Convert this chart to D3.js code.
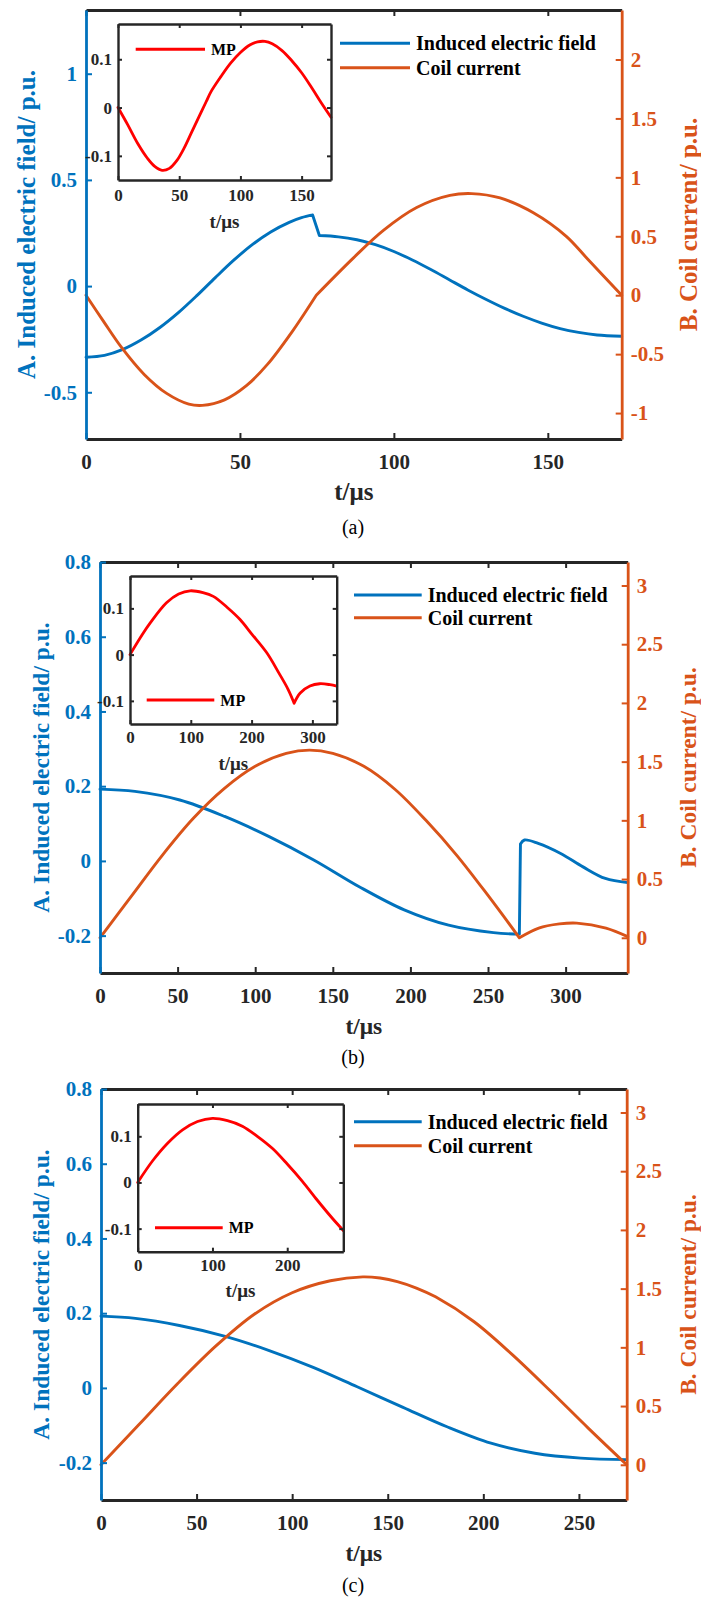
<!DOCTYPE html>
<html>
<head>
<meta charset="utf-8">
<script src="https://cdn.jsdelivr.net/npm/d3@7"></script>
<style>
  body { margin: 0; background: #fff; }
</style>
</head>
<body>
<script>
// ---- data ----
// (a)
const aTimeTicks = [0, 50, 100, 150];
const aFieldTicks = [-0.5, 0, 0.5, 1];
const aCurrentTicks = [-1, -0.5, 0, 0.5, 1, 1.5, 2];
const aMPTimeTicks = [0, 50, 100, 150];
const aField = [
  [[0, -0.335], [6, -0.326], [12, -0.298], [18, -0.253], [24, -0.195], [30, -0.125], [36, -0.045], [42, 0.04], [48, 0.122], [54, 0.195], [60, 0.255], [66, 0.3], [70, 0.322], [73.6, 0.335]],
  [[73.6, 0.335], [75.8, 0.238]],
  [[75.8, 0.238], [82, 0.232], [88, 0.218], [94, 0.195], [100, 0.163], [106, 0.123], [112, 0.078], [118, 0.03], [124, -0.018], [130, -0.063], [136, -0.105], [142, -0.142], [148, -0.174], [154, -0.2], [160, -0.218], [166, -0.23], [174, -0.236]]
];
const aCurrent = [
  [[0, 0], [5.8, -0.226], [11.6, -0.445], [18.9, -0.672], [26.2, -0.833], [33.4, -0.924], [37.8, -0.935], [45, -0.888], [52, -0.77], [59, -0.585], [66.8, -0.315], [74.8, 0]],
  [[74.8, 0], [86.8, 0.315], [96.6, 0.55], [107.4, 0.744], [118.2, 0.847], [125.3, 0.862], [134.5, 0.825], [145.3, 0.7], [156, 0.5], [163, 0.305], [174, 0]]
];
const aMP = [
  [[0, 0], [8, -0.036], [16, -0.074], [24, -0.105], [30, -0.122], [36, -0.13], [42, -0.126], [48, -0.11], [54, -0.084], [60, -0.052], [66, -0.02], [72, 0.012], [76, 0.033], [84, 0.064], [92, 0.092], [100, 0.114], [108, 0.13], [114, 0.136], [120, 0.137], [126, 0.132], [134, 0.118], [142, 0.097], [150, 0.072], [158, 0.042], [166, 0.01], [174, -0.02]]
];

// (b)
const bTimeTicks = [0, 50, 100, 150, 200, 250, 300];
const bFieldTicks = [-0.2, 0, 0.2, 0.4, 0.6, 0.8];
const bCurrentTicks = [0, 0.5, 1, 1.5, 2, 2.5, 3];
const bMPTimeTicks = [0, 100, 200, 300];
const bField = [
  [[0, 0.192], [22.5, 0.186], [51.4, 0.163], [80.3, 0.119], [109, 0.065], [138, 0.002], [167, -0.069], [196, -0.131], [224.6, -0.172], [253.5, -0.192], [270.2, -0.196]],
  [[270.2, -0.196], [270.9, 0.045]],
  [[270.9, 0.045], [273.5, 0.056], [282.3, 0.047], [296.8, 0.02], [311.2, -0.016], [325.6, -0.047], [340, -0.058]]
];
const bCurrent = [
  [[0, 0], [20, 0.35], [40, 0.7], [60, 1.015], [80, 1.27], [100, 1.46], [120, 1.57], [135, 1.598], [150, 1.57], [170, 1.46], [190, 1.265], [210, 1.0], [230, 0.7], [250, 0.36], [270.2, 0]],
  [[270.2, 0], [282.7, 0.083], [296, 0.118], [307.2, 0.125], [326, 0.083], [340, 0.01]]
];
const bMP = [
  [[0, 0], [20, 0.043], [33, 0.068], [60, 0.112], [80, 0.131], [99, 0.138], [120, 0.134], [137, 0.126], [160, 0.102], [181, 0.076], [200, 0.045], [225, 0.004], [245, -0.04], [260, -0.075], [270, -0.105]],
  [[270, -0.105], [280, -0.083], [296, -0.068], [312, -0.063], [329, -0.065], [340, -0.068]]
];

// (c)
const cTimeTicks = [0, 50, 100, 150, 200, 250];
const cFieldTicks = [-0.2, 0, 0.2, 0.4, 0.6, 0.8];
const cCurrentTicks = [0, 0.5, 1, 1.5, 2, 2.5, 3];
const cMPTimeTicks = [0, 100, 200];
const cField = [
  [[0, 0.192], [18, 0.186], [41, 0.167], [65, 0.138], [88, 0.1], [111, 0.055], [134, 0.003], [158, -0.052], [181, -0.104], [204, -0.148], [227, -0.175], [251, -0.188], [275, -0.192]]
];
const cCurrent = [
  [[0, 0], [20, 0.345], [40, 0.69], [60, 1.01], [80, 1.28], [100, 1.465], [120, 1.567], [137, 1.6], [146, 1.59], [155, 1.56], [165, 1.505], [175, 1.43], [195, 1.22], [215, 0.94], [235, 0.63], [255, 0.31], [275, 0]]
];
const cMP = [
  [[0, 0], [20, 0.047], [40, 0.085], [60, 0.114], [80, 0.132], [100, 0.139], [120, 0.134], [140, 0.122], [160, 0.1], [180, 0.074], [200, 0.04], [220, 0.003], [240, -0.038], [260, -0.077], [275, -0.104]]
];

const mpTicks = [-0.1, 0, 0.1];
const legendNames = ["Induced electric field", "Coil current"];

// ---- styling ----
const FONT = "Liberation Serif, Times New Roman, serif";
const BLUE = "#0072BD", ORANGE = "#D95319", RED = "#FF0000", INK = "#262626";

const panels = [
  { box: { l: 86, r: 621.7, t: 10, b: 439 }, xDomain: [0, 174], xTicks: aTimeTicks,
    yL: [-0.72, 1.3], yLTicks: aFieldTicks, yR: [-1.22, 2.42], yRTicks: aCurrentTicks,
    field: aField, current: aCurrent, labelSize: 25, labelLX: 26,
    legend: { x1: 340, x2: 410, y1: 43.3, y2: 67.7 },
    inset: { l: 118, r: 331, t: 24, b: 180, x: [0, 174], xTicks: aMPTimeTicks, y: [-0.15, 0.173], mp: aMP,
             leg: { x1: 135.7, x2: 205, y: 49.3 }, tickPad: 9, labelY: 221.7 },
    caption: "(a)", captionY: 527 },
  { box: { l: 100, r: 627.7, t: 562, b: 973 }, xDomain: [0, 340], xTicks: bTimeTicks,
    yL: [-0.3, 0.8], yLTicks: bFieldTicks, yR: [-0.3, 3.2], yRTicks: bCurrentTicks,
    field: bField, current: bCurrent, labelSize: 23.5, labelLX: 41,
    legend: { x1: 354, x2: 421.7, y1: 595, y2: 617.7 },
    inset: { l: 130, r: 336.7, t: 576, b: 724, x: [0, 340], xTicks: bMPTimeTicks, y: [-0.15, 0.17], mp: bMP,
             leg: { x1: 146.7, x2: 214.3, y: 700 }, tickPad: 7, labelY: 763 },
    caption: "(b)", captionY: 1057 },
  { box: { l: 101, r: 626.7, t: 1089, b: 1500 }, xDomain: [0, 275], xTicks: cTimeTicks,
    yL: [-0.3, 0.8], yLTicks: cFieldTicks, yR: [-0.3, 3.2], yRTicks: cCurrentTicks,
    field: cField, current: cCurrent, labelSize: 23.5, labelLX: 41,
    legend: { x1: 354, x2: 421.7, y1: 1121.7, y2: 1145.7 },
    inset: { l: 137.7, r: 343.3, t: 1104, b: 1251.7, x: [0, 275], xTicks: cMPTimeTicks, y: [-0.15, 0.17], mp: cMP,
             leg: { x1: 155, x2: 222.7, y: 1227.7 }, tickPad: 7.5, labelY: 1290.7 },
    caption: "(c)", captionY: 1585 }
];

const svg = d3.select("body").append("svg")
  .attr("width", 701).attr("height", 1598)
  .style("background", "#fff");

function styleAxis(sel, color, size, width) {
  sel.attr("color", color);
  sel.selectAll("text")
    .attr("font-family", FONT).attr("font-size", size).attr("font-weight", "bold")
    .style("font-family", FONT);
  sel.select(".domain").attr("stroke-width", width);
  sel.selectAll(".tick line").attr("stroke-width", 2);
}

function addText(g, x, y, str, size, color, opts) {
  const t = g.append("text").attr("x", x).attr("y", y)
    .attr("dominant-baseline", "central")
    .attr("text-anchor", (opts && opts.anchor) || "start")
    .attr("font-size", size).attr("fill", color)
    .attr("font-weight", opts && opts.regular ? "normal" : "bold")
    .style("font-family", FONT)
    .text(str);
  if (opts && opts.rotate) t.attr("transform", `rotate(-90,${x},${y})`);
  return t;
}

function drawPanel(p) {
  const g = svg.append("g");
  const b = p.box;
  const x = d3.scaleLinear().domain(p.xDomain).range([b.l, b.r]);
  const yL = d3.scaleLinear().domain(p.yL).range([b.b, b.t]);
  const yR = d3.scaleLinear().domain(p.yR).range([b.b, b.t]);

  // curves
  const lineL = d3.line().x(d => x(d[0])).y(d => yL(d[1])).curve(d3.curveCatmullRom.alpha(0.5));
  const lineR = d3.line().x(d => x(d[0])).y(d => yR(d[1])).curve(d3.curveCatmullRom.alpha(0.5));
  g.append("path").attr("d", p.field.map(s => lineL(s)).join(""))
    .attr("fill", "none").attr("stroke", BLUE).attr("stroke-width", 2.9)
    .attr("stroke-linejoin", "round").attr("stroke-linecap", "round");
  g.append("path").attr("d", p.current.map(s => lineR(s)).join(""))
    .attr("fill", "none").attr("stroke", ORANGE).attr("stroke-width", 2.9)
    .attr("stroke-linejoin", "round").attr("stroke-linecap", "round");

  // axes (ticks point inward)
  const bottom = g.append("g").attr("transform", `translate(0,${b.b})`)
    .call(d3.axisBottom(x).tickValues(p.xTicks).tickSize(-6).tickSizeOuter(0).tickPadding(15).tickFormat(d => String(d)));
  styleAxis(bottom, INK, 21, 2.8);
  const top = g.append("g").attr("transform", `translate(0,${b.t})`)
    .call(d3.axisTop(x).tickValues(p.xTicks).tickSize(-6).tickSizeOuter(0).tickFormat(""));
  styleAxis(top, INK, 21, 2.8);
  const left = g.append("g").attr("transform", `translate(${b.l},0)`)
    .call(d3.axisLeft(yL).tickValues(p.yLTicks).tickSize(-6).tickSizeOuter(0).tickPadding(9).tickFormat(d => String(d)));
  styleAxis(left, BLUE, 21, 2.8);
  const right = g.append("g").attr("transform", `translate(${b.r},0)`)
    .call(d3.axisRight(yR).tickValues(p.yRTicks).tickSize(-6).tickSizeOuter(0).tickPadding(9).tickFormat(d => String(d)));
  styleAxis(right, ORANGE, 21, 2.8);

  // axis titles and caption
  const midY = (b.t + b.b) / 2, midX = (b.l + b.r) / 2;
  addText(g, p.labelLX, midY, "A. Induced electric field/ p.u.", p.labelSize, BLUE, { anchor: "middle", rotate: true });
  addText(g, 688, midY, "B. Coil current/ p.u.", p.labelSize, ORANGE, { anchor: "middle", rotate: true });
  addText(g, midX, b.b + 52.7, "t/μs", p.labelSize, INK, { anchor: "middle" });
  addText(g, 353, p.captionY, p.caption, 20, "#000", { anchor: "middle", regular: true });

  // main legend
  const lg = p.legend;
  [[lg.y1, BLUE], [lg.y2, ORANGE]].forEach(([yy, col], i) => {
    g.append("line").attr("x1", lg.x1).attr("x2", lg.x2).attr("y1", yy).attr("y2", yy)
      .attr("stroke", col).attr("stroke-width", 3);
    addText(g, lg.x2 + 6, yy, legendNames[i], 20, "#000");
  });

  // inset
  const ins = p.inset;
  const ix = d3.scaleLinear().domain(ins.x).range([ins.l, ins.r]);
  const iy = d3.scaleLinear().domain(ins.y).range([ins.b, ins.t]);
  const ig = g.append("g");
  ig.append("rect").attr("x", ins.l).attr("y", ins.t)
    .attr("width", ins.r - ins.l).attr("height", ins.b - ins.t).attr("fill", "#fff");
  const lineI = d3.line().x(d => ix(d[0])).y(d => iy(d[1])).curve(d3.curveCatmullRom.alpha(0.5));
  ig.append("path").attr("d", ins.mp.map(s => lineI(s)).join(""))
    .attr("fill", "none").attr("stroke", RED).attr("stroke-width", 2.8)
    .attr("stroke-linejoin", "round").attr("stroke-linecap", "round");

  const ib = ig.append("g").attr("transform", `translate(0,${ins.b})`)
    .call(d3.axisBottom(ix).tickValues(ins.xTicks).tickSize(-4).tickSizeOuter(0).tickPadding(ins.tickPad).tickFormat(d => String(d)));
  styleAxis(ib, INK, 17, 2.4);
  const it = ig.append("g").attr("transform", `translate(0,${ins.t})`)
    .call(d3.axisTop(ix).tickValues(ins.xTicks).tickSize(-4).tickSizeOuter(0).tickFormat(""));
  styleAxis(it, INK, 17, 2.4);
  const il = ig.append("g").attr("transform", `translate(${ins.l},0)`)
    .call(d3.axisLeft(iy).tickValues(mpTicks).tickSize(-4).tickSizeOuter(0).tickPadding(6).tickFormat(d => String(d)));
  styleAxis(il, INK, 17, 2.4);
  const ir = ig.append("g").attr("transform", `translate(${ins.r},0)`)
    .call(d3.axisRight(iy).tickValues(mpTicks).tickSize(-4).tickSizeOuter(0).tickFormat(""));
  styleAxis(ir, INK, 17, 2.4);

  addText(ig, (ins.l + ins.r) / 2, ins.labelY, "t/μs", 19, INK, { anchor: "middle" });

  ig.append("line").attr("x1", ins.leg.x1).attr("x2", ins.leg.x2)
    .attr("y1", ins.leg.y).attr("y2", ins.leg.y).attr("stroke", RED).attr("stroke-width", 3);
  addText(ig, ins.leg.x2 + 6, ins.leg.y, "MP", 16, "#000");
}

panels.forEach(drawPanel);
</script>
</body>
</html>
